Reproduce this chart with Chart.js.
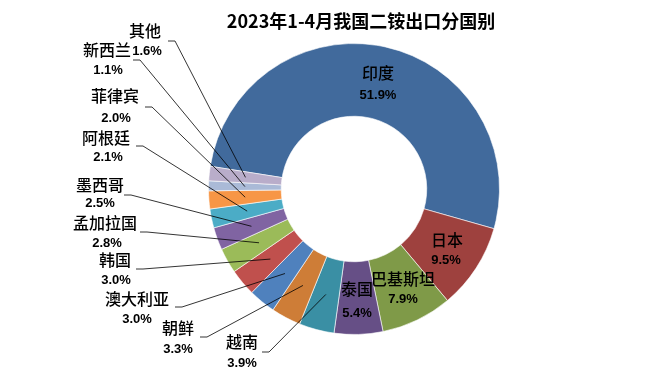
<!DOCTYPE html>
<html>
<head>
<meta charset="utf-8">
<script src="https://cdn.jsdelivr.net/npm/chart.js@4/dist/chart.umd.min.js"></script>
<style>
html,body{margin:0;padding:0;background:#fff;}
#wrap{width:659px;height:378px;position:relative;}
</style>
</head>
<body>
<div id="wrap"><canvas id="c" width="659" height="378"></canvas></div>
<script>
const titleText = '2023年1-4月我国二铵出口分国别';
const categories = ['印度','日本','巴基斯坦','泰国','越南','朝鲜','澳大利亚','韩国','孟加拉国','墨西哥','阿根廷','菲律宾','新西兰','其他'];
const shares = [51.9, 9.5, 7.9, 5.4, 3.9, 3.3, 3.0, 3.0, 2.8, 2.5, 2.1, 2.0, 1.1, 1.6];
const colors = ['#416A9C','#9E413E','#7F9A48','#664F86','#3A8FA4','#CE7D37','#4F81BD','#C0504D','#9BBB59','#8064A2','#4BACC6','#F79646','#AABAD7','#B9ADCA'];

// label layout: name centre, percent centre, leader start (null = inside label)
const labelLayout = [
  {n:[378,73], p:[378,95], s:null},
  {n:[447,240], p:[446,260], s:null},
  {n:[403,279], p:[403,299], s:null},
  {n:[357,289], p:[357,313], s:null},
  {n:[242,342], p:[242,363], s:[262,352]},
  {n:[178,328], p:[178,349], s:[200,337]},
  {n:[137,299], p:[137,319], s:[175,307]},
  {n:[115,260], p:[116,280], s:[136,269]},
  {n:[105,223], p:[107,243], s:[140,232]},
  {n:[100,185], p:[100,203], s:[124,195]},
  {n:[106,138], p:[108,157], s:[136,146]},
  {n:[115,96], p:[116,118], s:[145,107]},
  {n:[107,50], p:[108,70], s:[133,60]},
  {n:[145,31], p:[147,51], s:[168,41]}
];

const labelPlugin = {
  id: 'labels',
  afterDatasetsDraw(chart) {
    const ctx = chart.ctx;
    const meta = chart.getDatasetMeta(0);
    ctx.save();
    // title
    ctx.fillStyle = '#000';
    ctx.font = 'bold 18px "Noto Sans CJK SC"';
    ctx.textAlign = 'center';
    ctx.textBaseline = 'middle';
    ctx.fillText(titleText, 361, 21);
    // leader lines
    meta.data.forEach((arc, i) => {
      const L = labelLayout[i];
      if (!L.s) return;
      const pt = arc.getCenterPoint();
      ctx.strokeStyle = '#000';
      ctx.lineWidth = 0.8;
      ctx.beginPath();
      ctx.moveTo(L.s[0], L.s[1]);
      ctx.lineTo(L.s[0] + 7, L.s[1]);
      ctx.lineTo(pt.x, pt.y);
      ctx.stroke();
    });
    // texts
    meta.data.forEach((arc, i) => {
      const L = labelLayout[i];
      ctx.fillStyle = '#000';
      ctx.font = '500 16px "Noto Sans CJK SC"';
      ctx.fillText(categories[i], L.n[0], L.n[1]);
      ctx.font = 'bold 13px "Liberation Sans"';
      ctx.fillText(shares[i].toFixed(1) + '%', L.p[0], L.p[1]);
    });
    ctx.restore();
  }
};

new Chart(document.getElementById('c'), {
  type: 'doughnut',
  data: {
    labels: categories,
    datasets: [{
      data: shares,
      backgroundColor: colors,
      borderColor: 'rgba(255,255,255,0.6)',
      borderWidth: 1
    }]
  },
  options: {
    responsive: false,
    animation: false,
    rotation: -81,
    cutout: '50%',
    layout: { padding: { top: 43, bottom: 43, left: 208, right: 159 } },
    plugins: {
      legend: { display: false },
      tooltip: { enabled: false },
      title: { display: false }
    }
  },
  plugins: [labelPlugin]
});
</script>
</body>
</html>
